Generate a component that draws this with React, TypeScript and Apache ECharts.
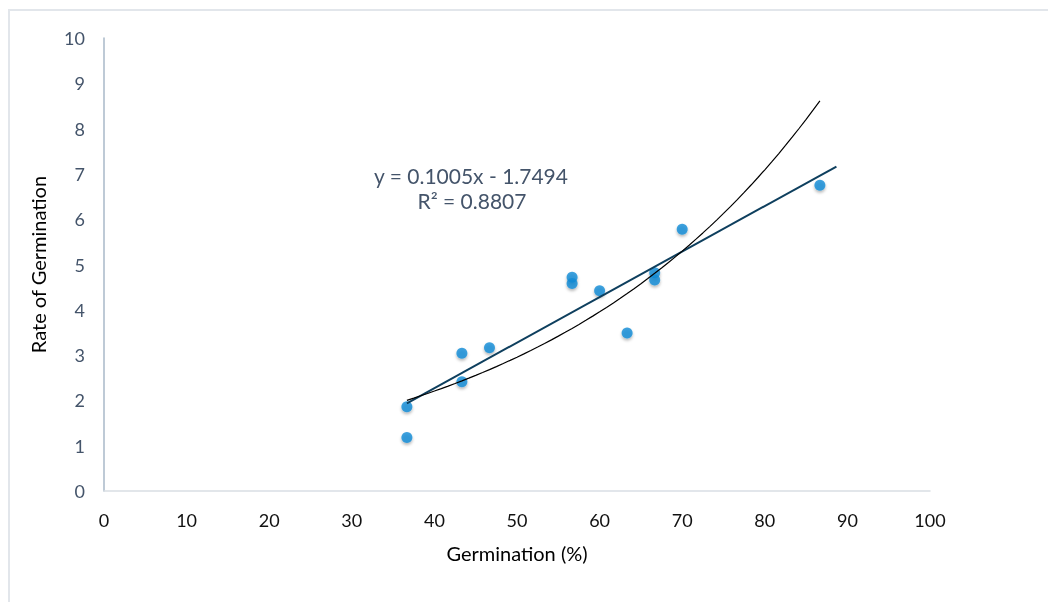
import React, { useEffect, useRef } from "react";
import * as echarts from "echarts";

const germination = [36.67, 36.67, 43.33, 43.33, 46.67, 56.67, 56.67, 60, 63.33, 66.67, 66.67, 70, 86.67];
const rate = [1.86, 1.18, 3.04, 2.41, 3.16, 4.72, 4.58, 4.42, 3.49, 4.82, 4.66, 5.78, 6.75];
const xTicks = { min: 0, max: 100, interval: 10 };
const yTicks = { min: 0, max: 10, interval: 1 };
const linSlope = 0.1005;
const linIntercept = -1.7494;
const linForward = 2;
const eqLine1 = "y = 0.1005x - 1.7494";
const eqLine2 = "R² = 0.8807";

function expFit(xs: number[], ys: number[]) {
  const n = xs.length;
  const ly = ys.map((v) => Math.log(v));
  const mx = xs.reduce((a, b) => a + b, 0) / n;
  const my = ly.reduce((a, b) => a + b, 0) / n;
  let sxx = 0, sxy = 0;
  for (let i = 0; i < n; i++) {
    sxx += (xs[i] - mx) ** 2;
    sxy += (xs[i] - mx) * (ly[i] - my);
  }
  const b = sxy / sxx;
  const a = Math.exp(my - b * mx);
  return { a, b };
}

export default function App() {
  const ref = useRef<HTMLDivElement>(null);
  useEffect(() => {
    if (!ref.current) return;
    const chart = echarts.init(ref.current, null, { renderer: "svg" });
    const xmin = Math.min(...germination);
    const xmax = Math.max(...germination);
    const { a, b } = expFit(germination, rate);
    const expPts: number[][] = [];
    const steps = 60;
    for (let i = 0; i <= steps; i++) {
      const x = xmin + ((xmax - xmin) * i) / steps;
      expPts.push([x, a * Math.exp(b * x)]);
    }
    const linPts = [
      [xmin, linSlope * xmin + linIntercept],
      [xmax + linForward, linSlope * (xmax + linForward) + linIntercept],
    ];
    const font = "Lato, 'Open Sans', sans-serif";
    chart.setOption({
      animation: false,
      backgroundColor: "transparent",
      grid: { left: 104, right: 118, top: 38, bottom: 111 },
      xAxis: {
        type: "value",
        min: xTicks.min,
        max: xTicks.max,
        interval: xTicks.interval,
        name: "Germination (%)",
        nameLocation: "middle",
        nameGap: 52,
        nameTextStyle: { color: "#000", fontSize: 20, fontFamily: font },
        axisLine: { show: true, lineStyle: { color: "#D9DEE4", width: 1.5 } },
        axisTick: { show: false },
        splitLine: { show: false },
        axisLabel: { color: "#111", fontSize: 18, fontFamily: font, margin: 20 },
      },
      yAxis: {
        type: "value",
        min: yTicks.min,
        max: yTicks.max,
        interval: yTicks.interval,
        name: "Rate of Germination",
        nameLocation: "middle",
        nameGap: 56,
        nameRotate: 90,
        nameTextStyle: { color: "#000", fontSize: 20, fontFamily: font },
        axisLine: { show: true, lineStyle: { color: "#A9B8C8", width: 1.5 } },
        axisTick: { show: false },
        splitLine: { show: false },
        axisLabel: { color: "#44546A", fontSize: 18, fontFamily: font, margin: 19 },
      },
      series: [
        {
          type: "line",
          data: linPts,
          showSymbol: false,
          lineStyle: { color: "#0E3F5E", width: 2 },
          z: 3,
        },
        {
          type: "line",
          data: expPts,
          showSymbol: false,
          smooth: false,
          lineStyle: { color: "#000", width: 1.2 },
          z: 4,
        },
        {
          type: "scatter",
          data: germination.map((x, i) => [x, rate[i]]),
          symbolSize: 11,
          itemStyle: {
            color: "#0E8BD6",
            shadowBlur: 3,
            shadowColor: "rgba(0,0,0,0.35)",
            shadowOffsetY: 2,
          },
          z: 2,
        },
      ],
      graphic: [
        {
          type: "text",
          x: 471,
          y: 175,
          style: {
            text: eqLine1,
            fill: "#44546A",
            fontSize: 21,
            fontFamily: font,
            textAlign: "center",
            textVerticalAlign: "middle",
          },
        },
        {
          type: "text",
          x: 472,
          y: 200,
          style: {
            text: eqLine2,
            fill: "#44546A",
            fontSize: 21,
            fontFamily: font,
            textAlign: "center",
            textVerticalAlign: "middle",
          },
        },
      ],
    });
    return () => chart.dispose();
  }, []);
  return (
    <>
      <div
        style={{
          position: "fixed",
          left: 8,
          top: 9,
          width: 1100,
          height: 700,
          border: "2px solid #E2E6EB",
          boxSizing: "border-box",
        }}
      />
      <div ref={ref} style={{ position: "fixed", left: 0, top: 0, width: 1048, height: 602 }} />
    </>
  );
}
